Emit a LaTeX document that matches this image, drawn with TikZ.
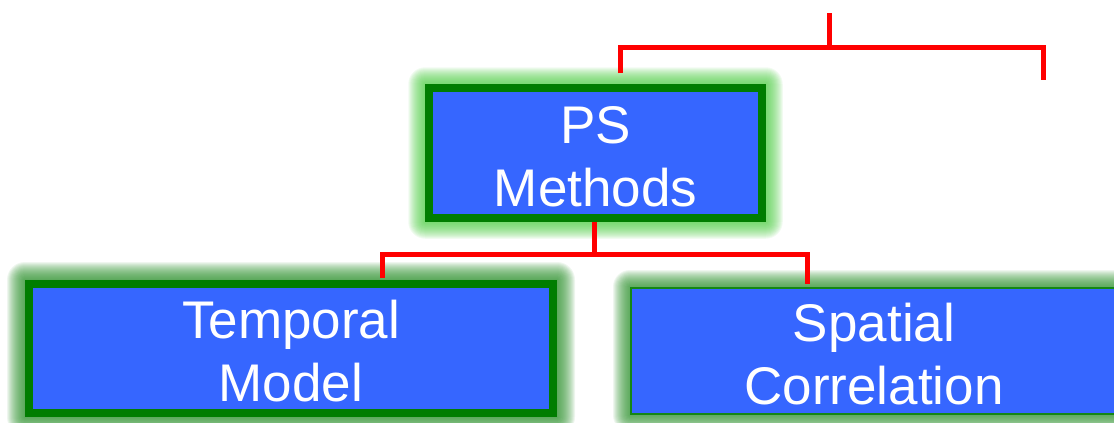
\documentclass[tikz,border=0pt]{standalone}
\usepackage{fontspec}
\setmainfont{Liberation Sans}
\pgfdeclarelayer{background}
\pgfsetlayers{background,main}
\definecolor{boxblue}{RGB}{54,102,255}
\definecolor{edgegreen}{RGB}{0,125,0}
\definecolor{thingreen}{RGB}{20,135,20}
\definecolor{glowlight}{RGB}{80,205,70}
\definecolor{glowdark}{RGB}{45,145,45}
\definecolor{linkred}{RGB}{255,0,0}
\tikzset{
  methodbox/.style={draw=edgegreen, line width=8pt, fill=boxblue, text=white,
    align=center, inner sep=0pt,
    font=\fontsize{53}{63}\selectfont},
  thinbox/.style={methodbox, draw=thingreen, line width=2pt},
  link/.style={draw=linkred, line width=5pt, line cap=butt, line join=miter}
}
% soft halo behind a box: stacked translucent rounded rectangles
\newcommand{\boxhalo}[3]{%
  \foreach \d in {1,2,...,#3}
    \fill[#2, opacity=0.08, rounded corners=\d pt]
      ([xshift=-\d pt, yshift=-\d pt]#1.south west) rectangle
      ([xshift=\d pt, yshift=\d pt]#1.north east);
}
% invisible strut on the first line sets the labels a little lower
\newcommand{\firstlinestrut}{\rule{0pt}{44pt}}
\begin{document}
\begin{tikzpicture}[x=1pt, y=-1pt]
  \useasboundingbox (0,0) rectangle (1114,423);

  \node[methodbox, line width=7.5pt, minimum width=333pt, minimum height=130pt]
    (ps) at (595.5,153) {\firstlinestrut PS\\Methods};
  \node[methodbox, minimum width=524pt, minimum height=129pt]
    (temporal) at (291,348.5) {\firstlinestrut Temporal\\Model};
  \node[thinbox, minimum width=486pt, minimum height=126pt]
    (spatial) at (874,351) {\firstlinestrut Spatial\\Correlation};

  \coordinate (topstub) at (829,13);
  \coordinate (busL) at (620,47);
  \coordinate (busR) at (1043,47);
  \coordinate (rightend) at (1043,80);
  \coordinate (split) at (594,254);

  \begin{pgfonlayer}{background}
    \boxhalo{ps}{glowlight}{17}
    \boxhalo{temporal}{glowdark}{18}
    \boxhalo{spatial}{glowdark}{17}

    % upper bracket
    \draw[link] (topstub) -- (topstub |- busL);
    \draw[link] ([xshift=24.5pt, yshift=11pt]ps.north) -- (busL) -- (busR) -- (rightend);

    % lower bracket
    \draw[link] ([xshift=-1.5pt]ps.south) -- (split);
    \draw[link] ([xshift=91pt, yshift=2pt]temporal.north) |- (split)
      -| ([xshift=-67pt, yshift=3pt]spatial.north);
  \end{pgfonlayer}
\end{tikzpicture}
\end{document}
